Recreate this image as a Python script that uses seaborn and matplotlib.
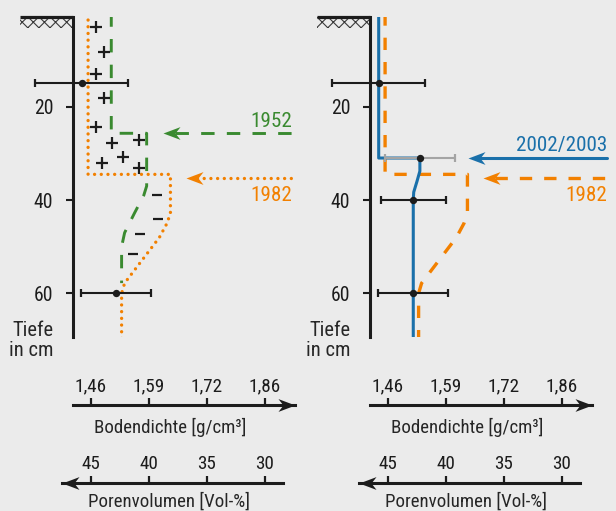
import numpy as np
import pandas as pd
import seaborn as sns
import matplotlib.pyplot as plt
from matplotlib import font_manager
from matplotlib.path import Path
from matplotlib.patches import Rectangle

# ---------------------------------------------------------------- data
# x positions are pore volume in Vol-% (density = 2.65 * (1 - n))
axis_ticks = [45, 40, 35, 30]
density_labels = ["1,46", "1,59", "1,72", "1,86"]
porosity_labels = ["45", "40", "35", "30"]
depth_ticks = [20, 40, 60]

# profile 1952 (dashed green)
p1952 = [43.25, 43.25, 40.2, 40.2, 40.45, 41.25, 42.1, 42.36, 42.36]
d1952 = [0.0, 25.7, 25.7, 37.0, 39.0, 42.8, 47.0, 50.0, 57.8]

# profile 1982 (orange)
p1982 = [45.25, 45.25, 38.15, 38.15, 38.45, 39.1, 42.1, 42.36, 42.36]
d1982 = [0.0, 34.5, 34.5, 42.8, 45.0, 48.0, 57.8, 60.0, 70.0]

# profile 2002/2003 (blue)
p2002 = [45.8, 45.8, 42.25, 42.25, 42.5, 42.78, 42.82, 42.82]
d2002 = [0.0, 31.0, 31.0, 33.8, 36.0, 38.3, 40.0, 70.0]

# measurements 2002/2003 with spread
meas_depth = [15, 31, 40, 60]
meas_p = [45.8, 42.25, 42.82, 42.85]
meas_err = [4.0, 3.0, 2.8, 3.0]

# compaction (+) and loosening (-) signs between 1952 and 1982
plus_p = [44.58, 43.86, 44.58, 43.86, 44.58, 43.17, 40.89, 42.22, 44.06, 40.89]
plus_d = [3.0, 8.3, 13.0, 18.1, 24.3, 27.7, 27.1, 30.7, 32.0, 33.1]
minus_p = [39.28, 39.22, 40.75, 41.36]
minus_d = [38.9, 44.1, 47.3, 51.6]

# ---------------------------------------------------------------- style
BG = "#ebebeb"
INK = "#1c1c1c"
GREEN = "#3a8a30"
ORANGE = "#f28000"
BLUE = "#1a70aa"
GREY = "#a4a4a4"

sns.set_theme(style="white")


def pick_font():
    fonts = font_manager.fontManager.ttflist
    names = {f.name for f in fonts}
    for name in ["Liberation Sans Narrow", "Roboto Condensed", "Open Sans Condensed",
                 "Noto Sans Condensed", "Archivo Narrow", "Arial Narrow"]:
        if name in names:
            return name, None, 1.0
    for f in fonts:
        if f.stretch in ("condensed", "semi-condensed", "extra-condensed") \
                and f.style == "normal" and f.weight in (400, "normal", "regular"):
            return f.name, f.stretch, 1.0
    for f in fonts:
        if ("Narrow" in f.name or "Condensed" in f.name) and "Mono" not in f.name:
            return f.name, None, 1.0
    return ("Roboto" if "Roboto" in names else "Liberation Sans"), None, 0.9


FONT, STRETCH, FS = pick_font()
plt.rcParams["font.family"] = [FONT, "DejaVu Sans"]
if STRETCH:
    plt.rcParams["font.stretch"] = STRETCH
plt.rcParams["text.color"] = INK
plt.rcParams["hatch.linewidth"] = 0.8

W, H = 616, 511
PX = 11.6           # pixels per Vol-%
P_AXIS = 46.55      # pore volume at the depth axis
Y_TOP, Y_BOT = 16.7, 336.7
D_TOP, D_BOT = 0.72, 69.28


def box(x0, y0, x1, y1):
    return [x0 / W, 1 - y1 / H, (x1 - x0) / W, (y1 - y0) / H]


def head(direction):
    s = 1 if direction == "left" else -1
    verts = [(0, 0), (s * 17, 6.4), (s * 12, 0), (s * 17, -6.4), (0, 0)]
    codes = [Path.MOVETO, Path.LINETO, Path.LINETO, Path.LINETO, Path.CLOSEPOLY]
    return Path(verts, codes)


HEAD_L, HEAD_R = head("left"), head("right")
HEAD_MS = 24.5

fig = plt.figure(figsize=(W / 100, H / 100), dpi=100, facecolor=BG)


def profile_axes(x_axis, width):
    ax = fig.add_axes(box(x_axis, Y_TOP, x_axis + width, Y_BOT))
    ax.set_facecolor("none")
    ax.set_xlim(P_AXIS, P_AXIS - width / PX)
    ax.set_ylim(D_BOT, D_TOP)
    for side in ["top", "right", "bottom"]:
        ax.spines[side].set_visible(False)
    ax.spines["left"].set_linewidth(2.2)
    ax.spines["left"].set_color(INK)
    ax.set_xticks([])
    ax.set_yticks(depth_ticks)
    ax.tick_params(axis="y", direction="out", length=5.3, width=1.5,
                   color=INK, pad=8.8, labelsize=14.2 * FS, labelcolor=INK, left=True)
    # ground surface
    x_ground = P_AXIS + 53 / PX
    ax.add_patch(Rectangle((P_AXIS, D_TOP), x_ground - P_AXIS, 2.35,
                           facecolor="none", edgecolor="#3a3a3a", hatch="xxx",
                           lw=0, clip_on=False))
    ax.plot([x_ground, P_AXIS], [D_TOP, D_TOP], color=INK, lw=2.3,
            solid_capstyle="butt", clip_on=False)
    return ax


def scale_axes(x_axis, kind):
    if kind == "density":
        x0, x1, y0 = x_axis, x_axis + 222, 405
        labels, title = density_labels, "Bodendichte [g/cm³]"
        title_x, title_y = 97, -0.25
    else:
        x0, x1, y0 = x_axis - 11.3, x_axis + 209.7, 482.7
        labels, title = porosity_labels, "Porenvolumen [Vol-%]"
        title_x, title_y = 107, 0.0
    ax = fig.add_axes(box(x0, y0, x1, y0 + 10))
    ax.set_facecolor("none")
    ax.set_xlim(P_AXIS + (x_axis - x0) / PX, P_AXIS - (x1 - x_axis) / PX)
    ax.set_ylim(0, 1)
    for side in ["left", "right", "bottom"]:
        ax.spines[side].set_visible(False)
    ax.spines["top"].set_linewidth(2.2)
    ax.spines["top"].set_color(INK)
    ax.xaxis.tick_top()
    ax.set_xticks(axis_ticks, labels)
    ax.set_yticks([])
    ax.tick_params(axis="x", direction="out", length=5, width=1.6, color=INK,
                   pad=2.3, labelsize=13.8 * FS, labelcolor=INK)
    ax.set_xlabel(title, fontsize=13.6 * FS)
    ax.xaxis.set_label_position("bottom")
    ax.xaxis.set_label_coords(title_x / (x1 - x0), title_y)
    tip = 1 if kind == "density" else 0
    ax.plot([tip], [1], transform=ax.transAxes, ls="none",
            marker=HEAD_R if kind == "density" else HEAD_L,
            ms=HEAD_MS, mfc=INK, mew=0, clip_on=False)
    return ax


def arrow(ax, tip, depth, x_end, color, ls, lw, label, dy, **kw):
    ax.plot([tip - 1.0, x_end], [depth, depth], color=color, lw=lw, ls=ls,
            clip_on=False, **kw)
    ax.plot([tip], [depth], ls="none", marker=HEAD_L, ms=HEAD_MS, mfc=color,
            mew=0, clip_on=False)
    ax.annotate(label, xy=(x_end, depth), xytext=(0, dy),
                textcoords="offset points", ha="right", va="baseline",
                fontsize=15.2 * FS, color=color, annotation_clip=False)


def measurements(ax, idx, colors):
    for i, c in zip(idx, colors):
        ax.errorbar(meas_p[i], meas_depth[i], xerr=meas_err[i], fmt="none",
                    ecolor=c, elinewidth=1.5, capsize=2.8, capthick=1.6,
                    zorder=4, clip_on=False)
    sns.scatterplot(x=[meas_p[i] for i in idx], y=[meas_depth[i] for i in idx],
                    ax=ax, color=INK, s=28, linewidth=0, zorder=5)


DOTTED = (0, (0.01, 2.0))
DASH_G = (0, (4.6, 4.2))
DASH_O = (0, (3.7, 3.6))

# ---------------------------------------------------------------- left panel
axL = profile_axes(73, 222)
sns.lineplot(data=pd.DataFrame({"p": p1982, "d": d1982}), x="p", y="d",
             sort=False, estimator=None, ax=axL, color=ORANGE, lw=2.4,
             linestyle=DOTTED, dash_capstyle="round", zorder=2)
sns.lineplot(data=pd.DataFrame({"p": p1952, "d": d1952}), x="p", y="d",
             sort=False, estimator=None, ax=axL, color=GREEN, lw=2.1,
             linestyle=DASH_G, zorder=2)
axL.plot(plus_p, plus_d, ls="none", marker="+", ms=8, mew=1.6, color=INK)
axL.plot(minus_p, minus_d, ls="none", marker="_", ms=7.5, mew=1.6, color=INK)
measurements(axL, [0, 3], [INK, INK])
arrow(axL, 38.77, 25.7, 27.67, GREEN, DASH_G, 2.1, "1952", 4.8)
arrow(axL, 36.84, 35.35, 27.67, ORANGE, DOTTED, 2.4, "1982", -16.6,
      dash_capstyle="round")

# ---------------------------------------------------------------- right panel
axR = profile_axes(370, 240)
sns.lineplot(data=pd.DataFrame({"p": p1982, "d": d1982}), x="p", y="d",
             sort=False, estimator=None, ax=axR, color=ORANGE, lw=2.4,
             linestyle=DASH_O, zorder=2)
sns.lineplot(data=pd.DataFrame({"p": p2002, "d": d2002}), x="p", y="d",
             sort=False, estimator=None, ax=axR, color=BLUE, lw=2.2, zorder=3)
measurements(axR, [0, 1, 2, 3], [INK, GREY, INK, INK])
arrow(axR, 38.10, 30.9, 26.09, BLUE, "-", 2.2, "2002/2003", 5.0)
arrow(axR, 36.81, 35.35, 26.09, ORANGE, DASH_O, 2.4, "1982", -16.1)

for ax, width in ((axL, 222), (axR, 240)):
    ax.set_xlabel("")
    ax.set_ylabel("Tiefe\nin cm", rotation=0, ha="right", va="top",
                  fontsize=14.8 * FS, linespacing=1.1)
    ax.yaxis.set_label_coords(-19.5 / width, (Y_BOT - 320.5) / (Y_BOT - Y_TOP))

# ---------------------------------------------------------------- scales
for x_axis in (73, 370):
    scale_axes(x_axis, "density")
    scale_axes(x_axis, "porosity")

fig.savefig("out.png", dpi=100, facecolor=BG)
